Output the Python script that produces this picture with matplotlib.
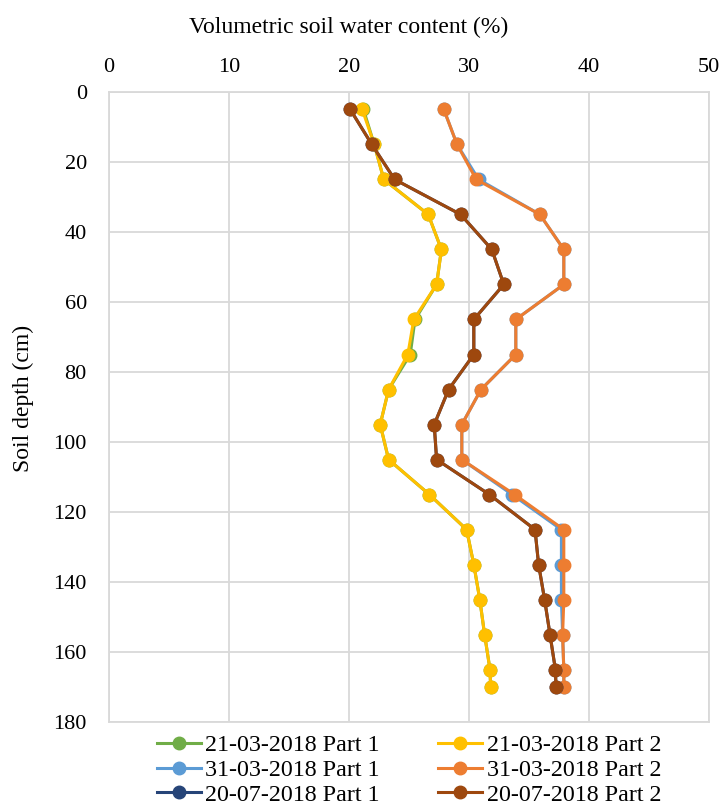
import numpy as np
import matplotlib.pyplot as plt

plt.rcParams['font.family'] = ['Liberation Serif', 'DejaVu Serif']

# soil depth (cm)
depth = [5, 15, 25, 35, 45, 55, 65, 75, 85, 95, 105, 115, 125, 135, 145, 155, 165, 170]

# volumetric soil water content (%)
p1_2103 = [21.2, 22.1, 22.9, 26.6, 27.7, 27.3, 25.5, 25.1, 23.3, 22.6, 23.3, 26.7, 29.8, 30.4, 30.9, 31.3, 31.75, 31.8]
p2_2103 = [21.1, 22.1, 22.9, 26.6, 27.7, 27.3, 25.4, 24.9, 23.3, 22.6, 23.3, 26.7, 29.8, 30.4, 30.9, 31.3, 31.75, 31.8]
p1_3103 = [27.9, 29.0, 30.8, 35.9, 37.9, 37.9, 33.9, 33.9, 31.0, 29.4, 29.4, 33.6, 37.7, 37.7, 37.7, 37.8, 37.9, 37.9]
p2_3103 = [27.9, 29.0, 30.6, 35.9, 37.9, 37.9, 33.9, 33.9, 31.0, 29.4, 29.4, 33.8, 37.9, 37.9, 37.9, 37.8, 37.9, 37.9]
p1_2007 = [20.1, 21.9, 23.8, 29.3, 31.9, 32.9, 30.4, 30.4, 28.3, 27.1, 27.3, 31.7, 35.5, 35.8, 36.3, 36.75, 37.2, 37.25]
p2_2007 = [20.1, 21.9, 23.8, 29.3, 31.9, 32.9, 30.4, 30.4, 28.3, 27.1, 27.3, 31.7, 35.5, 35.8, 36.3, 36.75, 37.2, 37.25]

series = [
    ('21-03-2018 Part 1', p1_2103, '#70AD47'),
    ('21-03-2018 Part 2', p2_2103, '#FFC000'),
    ('31-03-2018 Part 1', p1_3103, '#5B9BD5'),
    ('31-03-2018 Part 2', p2_3103, '#ED7D31'),
    ('20-07-2018 Part 1', p1_2007, '#264478'),
    ('20-07-2018 Part 2', p2_2007, '#9E480E'),
]

fig = plt.figure(figsize=(7.22, 8.06), dpi=100)
ax = fig.add_axes([0.151, 0.104, 0.831, 0.782])

handles = {}
for name, vals, col in series:
    h, = ax.plot(vals, depth, color=col, lw=2.2, marker='o', ms=9, label=name)
    handles[name] = h

ax.set_xlim(0, 50)
ax.set_ylim(180, 0)
ax.xaxis.tick_top()
ax.xaxis.set_label_position('top')
ax.set_xticks(np.arange(0, 51, 10))
ax.set_yticks(np.arange(0, 181, 20))
ax.tick_params(length=0, labelsize=16)
ax.tick_params(axis='x', pad=11)
ax.tick_params(axis='y', pad=16)
ax.grid(True, color='#d9d9d9', lw=1.3)
ax.set_axisbelow(True)
for s in ax.spines.values():
    s.set_color('#d9d9d9')
    s.set_linewidth(1.3)

ax.set_xlabel('Volumetric soil water content (%)', fontsize=17, va='center')
ax.xaxis.set_label_coords(0.40, 1.103)
ax.set_ylabel('Soil depth (cm)', fontsize=17, va='center')
ax.yaxis.set_label_coords(-0.143, 0.514)

# legend is filled column by column, so put all Part 1 first
order = [series[0][0], series[2][0], series[4][0], series[1][0], series[3][0], series[5][0]]
ax.legend([handles[n] for n in order], order, loc='upper center', bbox_to_anchor=(0.5, 0.0),
          ncol=2, frameon=False, fontsize=17.3, handlelength=1.83, columnspacing=2.45,
          labelspacing=0.13, handletextpad=0.17, borderaxespad=0.1)

fig.savefig('out.png', dpi=100)
